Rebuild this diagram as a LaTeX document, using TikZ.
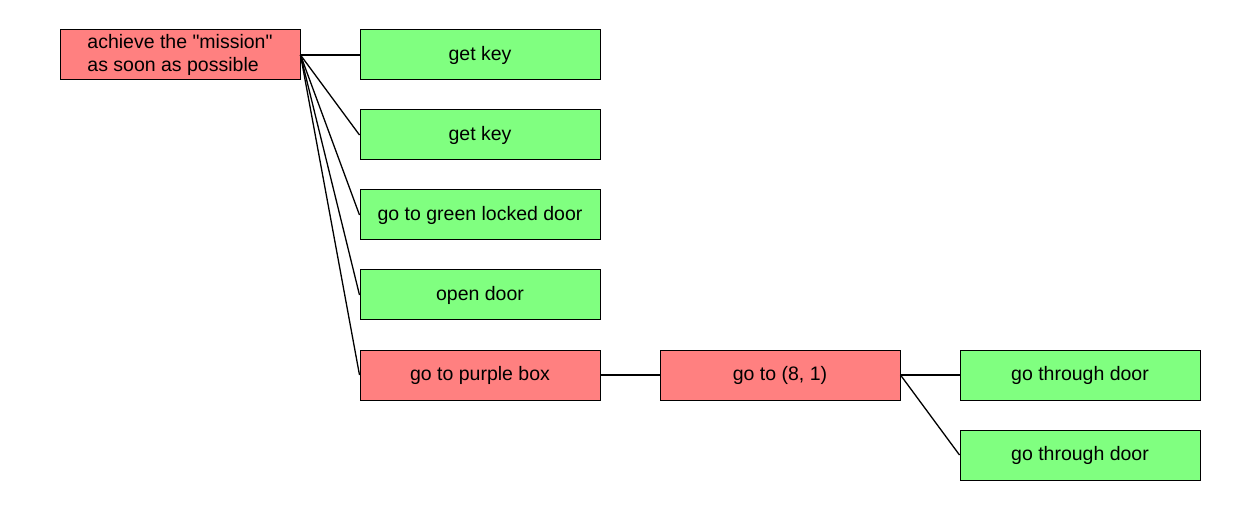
\documentclass[tikz,border=0pt]{standalone}
\usepackage{fontspec}
\newfontfamily\af{Liberation Sans}
\definecolor{gbox}{HTML}{80FF80}
\definecolor{rbox}{HTML}{FF8080}
\begin{document}
\begin{tikzpicture}[x=1pt,y=-1pt,
  box/.style={draw=black, line width=1pt, minimum width=240pt, minimum height=50pt, inner sep=0pt, font=\af\fontsize{19.5}{23.5}\selectfont},
  gnode/.style={box, fill=gbox},
  rnode/.style={box, fill=rbox},
  edge/.style={draw=black, line width=1.3pt}]
\useasboundingbox (0,0) rectangle (1260,510);
\node[rnode, align=left] (root) at (180,55) {achieve the "mission"\\as soon as possible};
\node[gnode] (k1) at (480,55) {get key};
\node[gnode] (k2) at (480,135) {get key};
\node[gnode] (gd) at (480,215) {go to green locked door};
\node[gnode] (od) at (480,295) {open door};
\node[rnode] (pb) at (480,375) {go to purple box};
\node[rnode] (g81) at (780,375) {go to (8, 1)};
\node[gnode] (t1) at (1080,375) {go through door};
\node[gnode] (t2) at (1080,455) {go through door};
\foreach \c in {k1,k2,gd,od,pb} \draw[edge] (root.east) -- (\c.west);
\draw[edge] (pb.east) -- (g81.west);
\draw[edge] (g81.east) -- (t1.west);
\draw[edge] (g81.east) -- (t2.west);
\end{tikzpicture}
\end{document}
